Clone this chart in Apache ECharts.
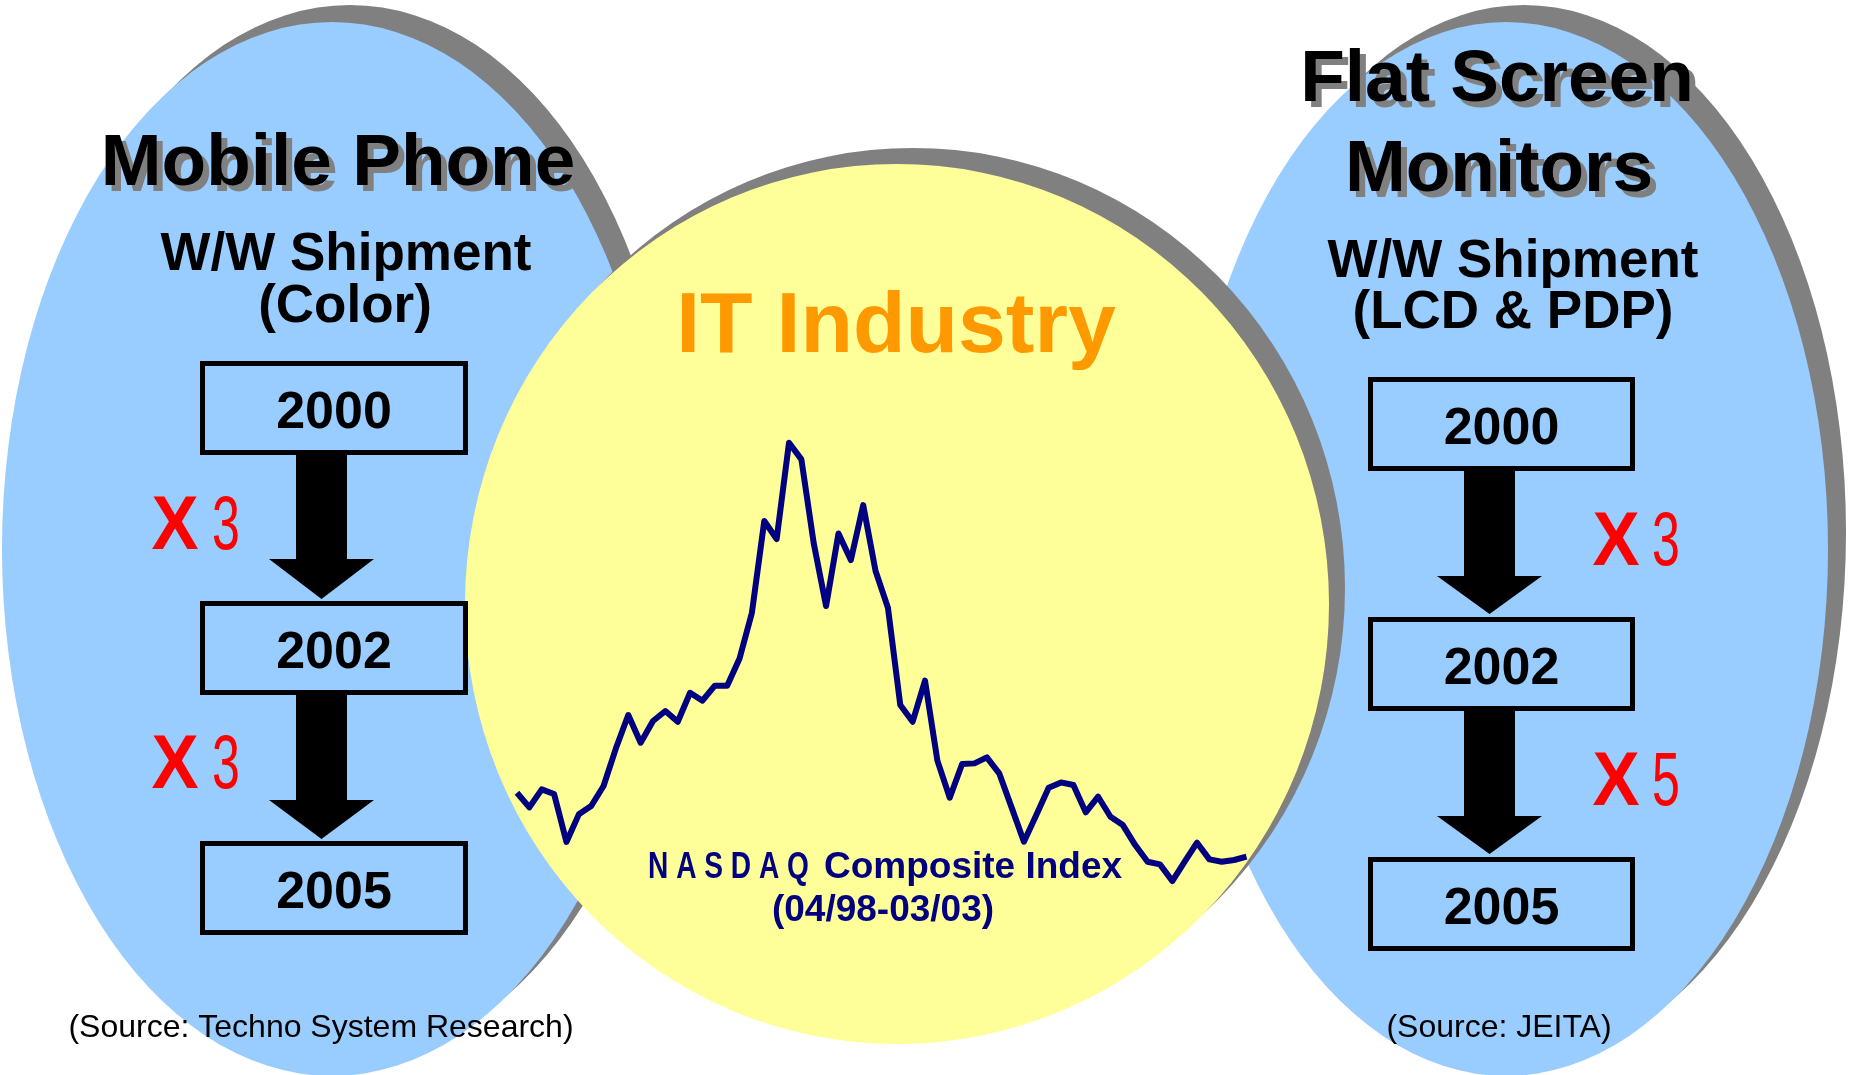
<!DOCTYPE html>
<html lang="en">

<head>
    <meta charset="UTF-8">
    <title>IT Industry</title>
    <script type="text/javascript" src="https://cdn.jsdelivr.net/npm/echarts@6/dist/echarts.min.js"></script>
    <style>
        body { margin: 0; background: #fff; }
        #container { width: 1858px; height: 1075px; }
    </style>
</head>

<body>
    <div id="container"></div>

    <script>
        // NASDAQ monthly points, 04/98 - 03/03
        var months = [
            '04/98', '05/98', '06/98', '07/98', '08/98', '09/98', '10/98', '11/98', '12/98',
            '01/99', '02/99', '03/99', '04/99', '05/99', '06/99', '07/99', '08/99', '09/99', '10/99', '11/99', '12/99',
            '01/00', '02/00', '03/00', '04/00', '05/00', '06/00', '07/00', '08/00', '09/00', '10/00', '11/00', '12/00',
            '01/01', '02/01', '03/01', '04/01', '05/01', '06/01', '07/01', '08/01', '09/01', '10/01', '11/01', '12/01',
            '01/02', '02/02', '03/02', '04/02', '05/02', '06/02', '07/02', '08/02', '09/02', '10/02', '11/02', '12/02',
            '01/03', '02/03', '03/03'
        ];
        var nasdaq = [
            1882, 1764, 1909, 1872, 1486, 1708, 1775, 1936, 2239,
            2507, 2284, 2459, 2539, 2453, 2686, 2622, 2743, 2743, 2962, 3330, 4067,
            3922, 4697, 4563, 3887, 3383, 3967, 3753, 4195, 3665, 3370, 2587, 2453,
            2783, 2140, 1842, 2113, 2118, 2166, 2038, 1764, 1488, 1703, 1922, 1965,
            1944, 1724, 1850, 1689, 1622, 1461, 1327, 1306, 1172, 1327, 1480, 1346,
            1327, 1341, 1368
        ];

        var leftYears = ['2000', '2002', '2005'];
        var rightYears = ['2000', '2002', '2005'];
        var leftFactors = ['3', '3'];
        var rightFactors = ['3', '5'];

        var BLUE = '#99CCFF', YELLOW = '#FFFF99', GREY = '#808080';
        var FONT = '"Liberation Sans", Arial, sans-serif';

        function ellipse(cx, cy, rx, ry, fill, z) {
            return {
                type: 'circle', x: cx, y: cy, scaleY: ry / rx, z: z, silent: true,
                shape: { cx: 0, cy: 0, r: rx },
                style: { fill: fill }
            };
        }

        function label(text, x, y, size, weight, color, extra) {
            var el = {
                type: 'text', x: x, y: y, z: 20, silent: true,
                style: {
                    text: text, fill: color,
                    font: weight + ' ' + size + 'px ' + FONT,
                    align: 'center', verticalAlign: 'middle',
                    textAlign: 'center', textVerticalAlign: 'middle'
                }
            };
            if (extra) {
                for (var k in extra) {
                    if (k == 'style') {
                        for (var s in extra.style) el.style[s] = extra.style[s];
                    } else el[k] = extra[k];
                }
            }
            return el;
        }

        function titleText(text, x, y) {
            return label(text, x, y, 73, 'bold', '#000', {
                style: { textShadowColor: GREY, textShadowOffsetX: 6, textShadowOffsetY: 6, textShadowBlur: 0.01 }
            });
        }

        function box(x0, x1, y0, y1) {
            return {
                type: 'rect', z: 8, silent: true,
                shape: { x: x0 + 2.5, y: y0 + 2.5, width: x1 - x0 - 5, height: y1 - y0 - 5 },
                style: { fill: BLUE, stroke: '#000', lineWidth: 5 }
            };
        }

        function arrow(sl, sr, hl, hr, top, shaftBottom, tip) {
            var mid = (hl + hr) / 2;
            return {
                type: 'polygon', z: 8, silent: true,
                shape: { points: [[sl, top], [sr, top], [sr, shaftBottom], [hr, shaftBottom], [mid, tip], [hl, shaftBottom], [sl, shaftBottom]] },
                style: { fill: '#000' }
            };
        }

        function factor(value, xX, x3, y) {
            return [
                label('X', xX, y, 76, 'bold', '#FF0000', { scaleX: 0.93 }),
                label(value, x3, y, 76, 'normal', '#FF0000', { scaleX: 0.66 })
            ];
        }

        var els = [];
        // background shapes
        els.push(ellipse(332 + 18, 549 - 17, 330, 527, GREY, 1));
        els.push(ellipse(332, 549, 330, 527, BLUE, 2));
        els.push(ellipse(1506 + 18, 549 - 17, 322, 527, GREY, 3));
        els.push(ellipse(1506, 549, 322, 527, BLUE, 4));
        els.push(ellipse(897 + 16, 604 - 16, 432, 440, GREY, 5));
        els.push(ellipse(897, 604, 432, 440, YELLOW, 6));

        // left column: mobile phone
        els.push(titleText('Mobile Phone', 338, 165));
        els.push(label('W/W Shipment', 346, 255, 53, 'bold', '#000'));
        els.push(label('(Color)', 345, 307, 53, 'bold', '#000'));
        var lBoxY = [[361, 455], [601, 695], [841, 935]];
        for (var i = 0; i < leftYears.length; i++) {
            els.push(box(200, 468, lBoxY[i][0], lBoxY[i][1]));
            els.push(label(leftYears[i], 334, (lBoxY[i][0] + lBoxY[i][1]) / 2 + 6, 52, 'bold', '#000'));
        }
        els.push(arrow(296, 347, 269, 374, 455, 559, 599));
        els.push(arrow(296, 347, 269, 374, 695, 800, 839));
        els = els.concat(factor(leftFactors[0], 175, 226, 528));
        els = els.concat(factor(leftFactors[1], 175, 226, 767));
        els.push(label('(Source: Techno System Research)', 321, 1028, 32, 'normal', '#000'));

        // right column: flat screen monitors
        els.push(titleText('Flat Screen', 1497, 81));
        els.push(titleText('Monitors', 1499, 171));
        els.push(label('W/W Shipment', 1513, 262, 53, 'bold', '#000'));
        els.push(label('(LCD & PDP)', 1513, 313, 53, 'bold', '#000'));
        var rBoxY = [[377, 471], [617, 711], [857, 951]];
        for (var j = 0; j < rightYears.length; j++) {
            els.push(box(1368, 1635, rBoxY[j][0], rBoxY[j][1]));
            els.push(label(rightYears[j], 1501.5, (rBoxY[j][0] + rBoxY[j][1]) / 2 + 6, 52, 'bold', '#000'));
        }
        els.push(arrow(1464, 1515, 1437, 1542, 471, 576, 614));
        els.push(arrow(1464, 1515, 1437, 1542, 711, 816, 854));
        els = els.concat(factor(rightFactors[0], 1616, 1666, 544));
        els = els.concat(factor(rightFactors[1], 1616, 1666, 784));
        els.push(label('(Source: JEITA)', 1499, 1028, 32, 'normal', '#000'));

        // centre: IT industry
        els.push(label('IT Industry', 896, 328, 86, 'bold', '#FF9900'));
        els.push(label('N A S D A Q', 728.5, 868, 37, 'bold', '#000080', { scaleX: 0.76 }));
        els.push(label('Composite Index', 824, 868, 37, 'bold', '#000080', { style: { align: 'left', textAlign: 'left' } }));
        els.push(label('(04/98-03/03)', 883, 911, 37, 'bold', '#000080'));

        var myChart = echarts.init(document.getElementById('container'));
        var option = {
            animation: false,
            backgroundColor: '#fff',
            grid: { left: 517, right: 611.5, top: 405, height: 497.4 },
            xAxis: { type: 'category', data: months, boundaryGap: false, show: false },
            yAxis: { type: 'value', min: 1000, max: 5000, show: false },
            graphic: { elements: els },
            series: [{
                name: 'NASDAQ Composite Index',
                type: 'line',
                data: nasdaq,
                z: 10,
                clip: false,
                symbol: 'none',
                showSymbol: false,
                silent: true,
                lineStyle: { color: '#000080', width: 6, join: 'round' }
            }]
        };
        myChart.setOption(option);
    </script>
</body>

</html>
